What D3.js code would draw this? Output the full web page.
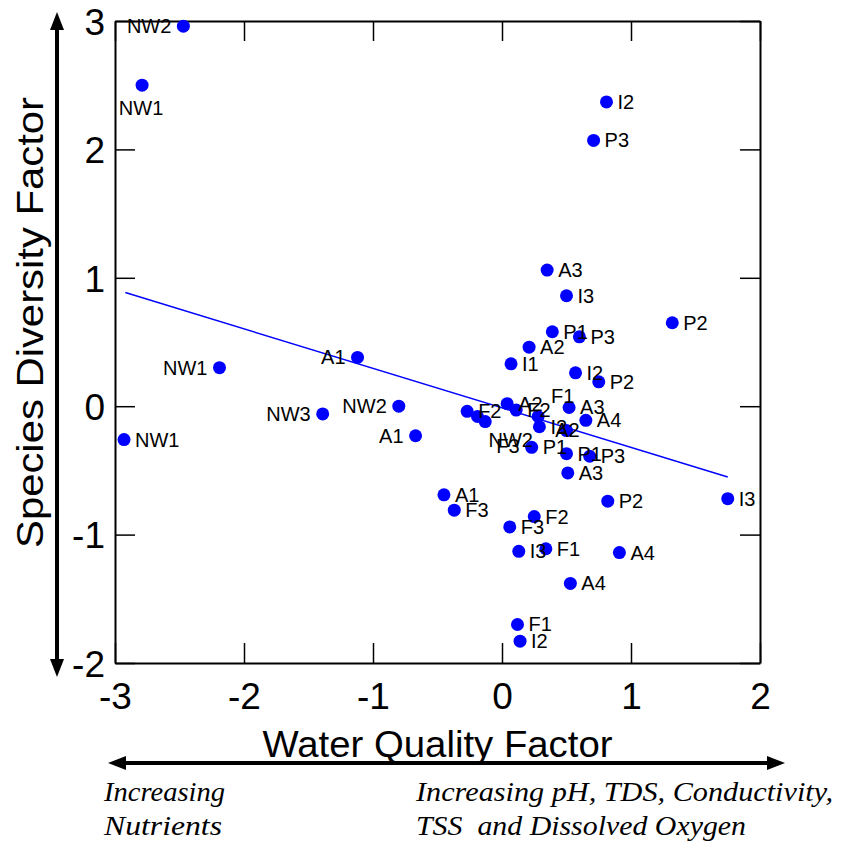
<!DOCTYPE html>
<html>
<head>
<meta charset="utf-8">
<script src="https://cdn.jsdelivr.net/npm/d3@7"></script>
<style>
  html, body { margin: 0; padding: 0; background: #fff; }
  svg { display: block; }
</style>
</head>
<body>
<div id="chart"></div>
<script>
// ---- data ----
const siteNames = ["NW2","NW1","I2","P3","A3","I3","P2","P1","P3","A2","I1","I2","P2",
  "NW1","A1","NW2","NW3","A1","NW1","A1","F3","F2","NW2","F3","A2","F2","F1","I2","A2",
  "P1","P1","P3","A3","A3","A4","P2","I3","F2","F3","I3","F1","A4","A4","F1","I2"];
const waterQuality = [-2.47,-2.79,0.81,0.71,0.35,0.50,1.32,0.39,0.60,0.21,0.07,0.57,0.75,
  -2.19,-1.12,-0.80,-1.39,-0.67,-2.93,-0.45,-0.37,-0.27,-0.19,-0.13,0.04,0.11,0.28,0.29,0.50,
  0.23,0.50,0.68,0.51,0.52,0.65,0.82,1.75,0.25,0.06,0.13,0.34,0.91,0.53,0.12,0.14];
const speciesDiversity = [2.96,2.50,2.37,2.07,1.06,0.86,0.65,0.58,0.54,0.46,0.33,0.26,0.19,
  0.30,0.38,0.00,-0.06,-0.23,-0.26,-0.69,-0.81,-0.04,-0.08,-0.12,0.02,-0.03,-0.08,-0.16,-0.19,
  -0.32,-0.37,-0.39,-0.52,-0.01,-0.11,-0.74,-0.72,-0.86,-0.94,-1.13,-1.11,-1.14,-1.38,-1.70,-1.83];
// label side codes: r = right, l = left, b = below, br = below-right, ar = above-right, c = centred
const labelSide = ["l","b","r","r","r","r","r","r","r","r","r","r","r",
  "l","l","l","l","l","r","r","r","r","br","br","r","r","ar","r","c",
  "r","r","r","r","r","r","r","r","r","r","r","r","r","r","r","r"];
const trendX = [-2.92, 1.75];
const trendY = [0.885, -0.551];
const xTicks = [-3,-2,-1,0,1,2];
const yTicks = [-2,-1,0,1,2,3];
const xDomain = [-3, 2];
const yDomain = [-2, 3];

(function () {
// ---- layout ----
const W = 852, H = 846;
const pLeft = 115, pRight = 760, pTop = 21, pBottom = 663;
const sans = "'Liberation Sans', Arial, Helvetica, sans-serif";
const serif = "'Liberation Serif', 'Times New Roman', serif";

const svg = d3.select("#chart").append("svg")
  .attr("width", W).attr("height", H)
  .style("background", "#fff");

const x = d3.scaleLinear().domain(xDomain).range([pLeft, pRight]);
const y = d3.scaleLinear().domain(yDomain).range([pBottom, pTop]);

// axes (ticks inward on all four sides)
const fmt = d => String(d);
const gB = svg.append("g").attr("transform", `translate(0,${pBottom})`)
  .call(d3.axisBottom(x).tickValues(xTicks).tickSizeInner(-20).tickSizeOuter(0).tickPadding(20).tickFormat(fmt));
const gL = svg.append("g").attr("transform", `translate(${pLeft},0)`)
  .call(d3.axisLeft(y).tickValues(yTicks).tickSizeInner(-20).tickSizeOuter(0).tickPadding(10).tickFormat(fmt));
const gT = svg.append("g").attr("transform", `translate(0,${pTop})`)
  .call(d3.axisTop(x).tickValues(xTicks).tickSizeInner(-20).tickSizeOuter(0).tickFormat(""));
const gR = svg.append("g").attr("transform", `translate(${pRight},0)`)
  .call(d3.axisRight(y).tickValues(yTicks).tickSizeInner(-20).tickSizeOuter(0).tickFormat(""));

[gB, gL, gT, gR].forEach(g => {
  g.select(".domain").attr("stroke", "#000").attr("stroke-width", 2);
  g.selectAll(".tick line").attr("stroke", "#000").attr("stroke-width", 1.5);
  g.selectAll(".tick text").attr("fill", "#000")
    .style("font-family", sans).style("font-size", "37px");
});
gL.selectAll(".tick text").attr("dy", "0.36em");

// regression line
svg.append("line")
  .attr("x1", x(trendX[0])).attr("y1", y(trendY[0]))
  .attr("x2", x(trendX[1])).attr("y2", y(trendY[1]))
  .attr("stroke", "#0000ff").attr("stroke-width", 1.5);

// points
const idx = d3.range(siteNames.length);
svg.append("g").selectAll("circle").data(idx).join("circle")
  .attr("cx", i => x(waterQuality[i]))
  .attr("cy", i => y(speciesDiversity[i]))
  .attr("r", 6.5)
  .attr("fill", "#0000ff");

// labels
const off = {
  r:  {dx: 11,  dy: 7,   a: "start"},
  l:  {dx: -12, dy: 7,   a: "end"},
  b:  {dx: -1,  dy: 30,  a: "middle"},
  br: {dx: 11,  dy: 31,  a: "start"},
  ar: {dx: 13,  dy: -13, a: "start"},
  c:  {dx: 1,   dy: 6,   a: "middle"}
};
svg.append("g").selectAll("text").data(idx).join("text")
  .attr("x", i => x(waterQuality[i]) + off[labelSide[i]].dx)
  .attr("y", i => y(speciesDiversity[i]) + off[labelSide[i]].dy)
  .attr("text-anchor", i => off[labelSide[i]].a)
  .style("font-family", sans).style("font-size", "20px")
  .attr("fill", "#000")
  .text(i => siteNames[i]);

// axis titles
svg.append("text")
  .attr("x", (pLeft + pRight) / 2).attr("y", 757)
  .attr("text-anchor", "middle")
  .attr("textLength", 350).attr("lengthAdjust", "spacingAndGlyphs")
  .style("font-family", sans).style("font-size", "36px")
  .text("Water Quality Factor");

svg.append("text")
  .attr("transform", `translate(43,${(97 + 548) / 2}) rotate(-90)`)
  .attr("text-anchor", "middle")
  .attr("textLength", 451).attr("lengthAdjust", "spacingAndGlyphs")
  .style("font-family", sans).style("font-size", "37px")
  .text("Species Diversity Factor");

// vertical double arrow
const ax = 57;
svg.append("line").attr("x1", ax).attr("x2", ax).attr("y1", 26).attr("y2", 663)
  .attr("stroke", "#000").attr("stroke-width", 4);
svg.append("path").attr("d", `M${ax},12 L${ax - 7},30 L${ax + 7},30 Z`).attr("fill", "#000");
svg.append("path").attr("d", `M${ax},677 L${ax - 7},659 L${ax + 7},659 Z`).attr("fill", "#000");

// horizontal double arrow
const ay = 763;
svg.append("line").attr("x1", 122).attr("x2", 771).attr("y1", ay).attr("y2", ay)
  .attr("stroke", "#000").attr("stroke-width", 4);
svg.append("path").attr("d", `M108,${ay} L126,${ay - 7} L126,${ay + 7} Z`).attr("fill", "#000");
svg.append("path").attr("d", `M785,${ay} L767,${ay - 7} L767,${ay + 7} Z`).attr("fill", "#000");

// italic annotations
const notes = [
  {t: "Increasing", x: 104, y: 801, w: 121},
  {t: "Nutrients", x: 104, y: 835, w: 118},
  {t: "Increasing pH, TDS, Conductivity,", x: 416, y: 801, w: 417},
  {t: "TSS\u00a0 and Dissolved Oxygen", x: 416, y: 835, w: 330}
];
svg.append("g").selectAll("text").data(notes).join("text")
  .attr("x", d => d.x).attr("y", d => d.y)
  .attr("textLength", d => d.w).attr("lengthAdjust", "spacingAndGlyphs")
  .style("font-family", serif).style("font-style", "italic").style("font-size", "27px")
  .attr("fill", "#000")
  .text(d => d.t);
})();
</script>
</body>
</html>
